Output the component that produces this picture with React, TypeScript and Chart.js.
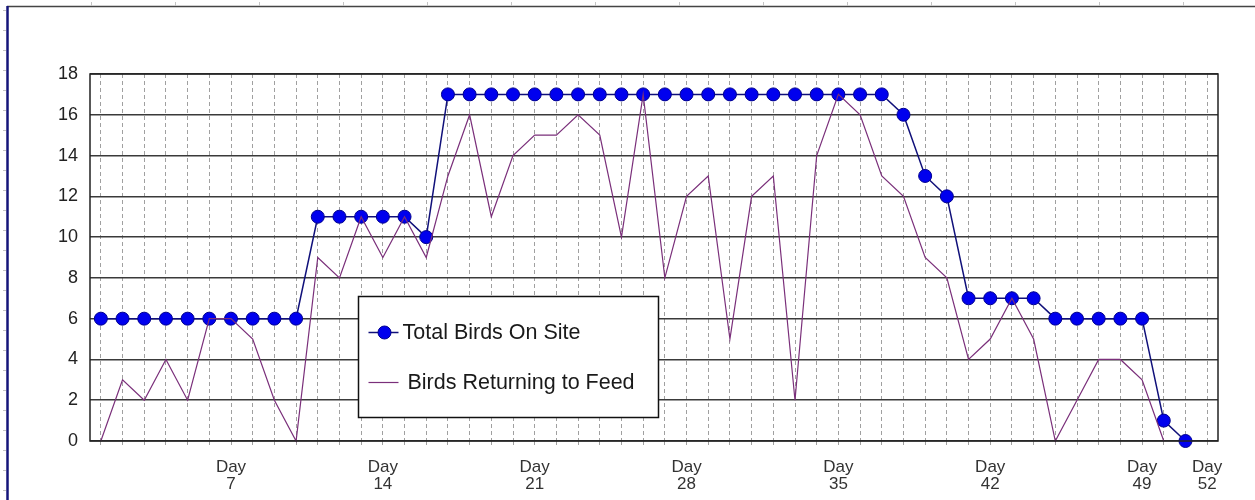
import React, { useEffect, useRef } from "react";
import { Chart, registerables } from "chart.js";

Chart.register(...registerables);

const days: string[] = Array.from({ length: 52 }, (_, i) => String(i + 1));

const totalBirds: (number | null)[] = [
  6, 6, 6, 6, 6, 6, 6, 6, 6, 6,
  11, 11, 11, 11, 11, 10,
  17, 17, 17, 17, 17, 17, 17, 17, 17, 17, 17, 17, 17, 17, 17, 17, 17, 17, 17, 17, 17,
  16, 13, 12, 7, 7, 7, 7,
  6, 6, 6, 6, 6, 1, 0, null,
];

const birdsReturning: (number | null)[] = [
  0, 3, 2, 4, 2, 6, 6, 5, 2, 0,
  9, 8, 11, 9, 11, 9,
  13, 16, 11, 14, 15, 15, 16, 15, 10, 17, 8, 12, 13, 5, 12, 13, 2, 14, 17, 16, 13,
  12, 9, 8, 4, 5, 7, 5,
  0, 2, 4, 4, 3, 0, null, null,
];

const labeledDays: number[] = [7, 14, 21, 28, 35, 42, 49, 52];
const seriesNames: string[] = ["Total Birds On Site", "Birds Returning to Feed"];

const FONT = "Arial, 'Liberation Sans', sans-serif";
const BLUE_LINE = "#10107a";
const BLUE_FILL = "#0000ee";
const PURPLE = "#7a2f7a";

const framePlugin = {
  id: "frame",
  beforeDraw(chart: any) {
    const ctx = chart.ctx;
    ctx.save();
    ctx.fillStyle = "#ffffff";
    ctx.fillRect(0, 0, chart.width, chart.height);
    // top ruler line
    ctx.strokeStyle = "#444";
    ctx.lineWidth = 1.5;
    ctx.beginPath();
    ctx.moveTo(7, 6.5);
    ctx.lineTo(chart.width, 6.5);
    ctx.stroke();
    ctx.strokeStyle = "#c4c4c4";
    ctx.lineWidth = 1;
    for (let x = 91; x < chart.width; x += 84) {
      ctx.beginPath();
      ctx.moveTo(x + 0.5, 2);
      ctx.lineTo(x + 0.5, 6);
      ctx.stroke();
    }
    for (let y = 10; y < chart.height; y += 20) {
      ctx.beginPath();
      ctx.moveTo(3, y + 0.5);
      ctx.lineTo(6, y + 0.5);
      ctx.stroke();
    }
    // left navy line
    ctx.strokeStyle = "#14147a";
    ctx.lineWidth = 2.5;
    ctx.beginPath();
    ctx.moveTo(7.5, 6);
    ctx.lineTo(7.5, chart.height);
    ctx.stroke();
    ctx.restore();
  },
  afterDatasetsDraw(chart: any) {
    const { ctx, chartArea } = chart;
    ctx.save();
    ctx.strokeStyle = "#222";
    ctx.lineWidth = 1.5;
    ctx.strokeRect(chartArea.left, chartArea.top, chartArea.right - chartArea.left, chartArea.bottom - chartArea.top);
    ctx.restore();
  },
  afterDraw(chart: any) {
    const { ctx, chartArea } = chart;
    const bx = chartArea.left + 268.5;
    const by = chartArea.top + 222.5;
    const bw = 300;
    const bh = 121;
    ctx.save();
    ctx.fillStyle = "#fff";
    ctx.fillRect(bx, by, bw, bh);
    ctx.strokeStyle = "#111";
    ctx.lineWidth = 1.5;
    ctx.strokeRect(bx, by, bw, bh);
    // entry 1
    const y1 = by + 36;
    ctx.strokeStyle = BLUE_LINE;
    ctx.lineWidth = 1.5;
    ctx.beginPath();
    ctx.moveTo(bx + 10, y1);
    ctx.lineTo(bx + 40, y1);
    ctx.stroke();
    ctx.fillStyle = BLUE_FILL;
    ctx.strokeStyle = "#000090";
    ctx.lineWidth = 1;
    ctx.beginPath();
    ctx.arc(bx + 26, y1, 6.5, 0, Math.PI * 2);
    ctx.fill();
    ctx.stroke();
    ctx.fillStyle = "#1a1a1a";
    ctx.font = `21.5px ${FONT}`;
    ctx.textBaseline = "middle";
    ctx.fillText(seriesNames[0], bx + 44, y1 + 1);
    // entry 2
    const y2 = by + 86;
    ctx.strokeStyle = PURPLE;
    ctx.lineWidth = 1.2;
    ctx.beginPath();
    ctx.moveTo(bx + 10, y2);
    ctx.lineTo(bx + 40, y2);
    ctx.stroke();
    ctx.fillText(seriesNames[1], bx + 49, y2 + 1);
    ctx.restore();
  },
};

export default function App() {
  const ref = useRef<HTMLCanvasElement | null>(null);
  useEffect(() => {
    if (!ref.current) return;
    const chart = new Chart(ref.current, {
      type: "line",
      data: {
        labels: days,
        datasets: [
          {
            label: seriesNames[0],
            data: totalBirds,
            borderColor: BLUE_LINE,
            borderWidth: 1.5,
            pointRadius: 6.5,
            pointBackgroundColor: BLUE_FILL,
            pointBorderColor: "#000090",
            pointBorderWidth: 1,
            tension: 0,
            clip: false as any,
            order: 1,
          },
          {
            label: seriesNames[1],
            data: birdsReturning,
            borderColor: PURPLE,
            borderWidth: 1.2,
            pointRadius: 0,
            tension: 0,
            clip: false as any,
            order: 0,
          },
        ],
      },
      plugins: [framePlugin],
      options: {
        animation: false,
        responsive: false,
        devicePixelRatio: 1,
        layout: { padding: { top: 74, right: 37, left: 0, bottom: 0 } },
        plugins: { legend: { display: false }, tooltip: { enabled: false } },
        scales: {
          x: {
            type: "category",
            offset: true,
            grid: {
              offset: false,
              color: "#a0a0a0",
              lineWidth: 1,
              drawTicks: true,
              tickLength: 6,
              tickBorderDash: [4, 3],
              tickColor: "#a0a0a0",
            },
            border: { display: false, dash: [4, 3] },
            ticks: {
              autoSkip: false,
              maxRotation: 0,
              minRotation: 0,
              padding: 11,
              color: "#333",
              font: { family: FONT, size: 17, lineHeight: 1.05 },
              callback: (_v: any, i: number) =>
                labeledDays.includes(i + 1) ? ["Day", String(i + 1)] : "",
            },
            afterFit: (s: any) => {
              s.height = 59;
            },
          },
          y: {
            min: 0,
            max: 18,
            grid: { color: "#3a3a3a", lineWidth: 1.5, drawTicks: false },
            border: { display: false },
            ticks: {
              stepSize: 2,
              padding: 12,
              color: "#222",
              font: { family: FONT, size: 18 },
            },
            afterFit: (s: any) => {
              s.width = 90;
            },
          },
        },
      },
    });
    return () => chart.destroy();
  }, []);
  return (
    <div style={{ position: "fixed", left: 0, top: 0, width: 1255, height: 500, background: "#fff" }}>
      <canvas ref={ref} width={1255} height={500} style={{ display: "block", width: 1255, height: 500 }} />
    </div>
  );
}
